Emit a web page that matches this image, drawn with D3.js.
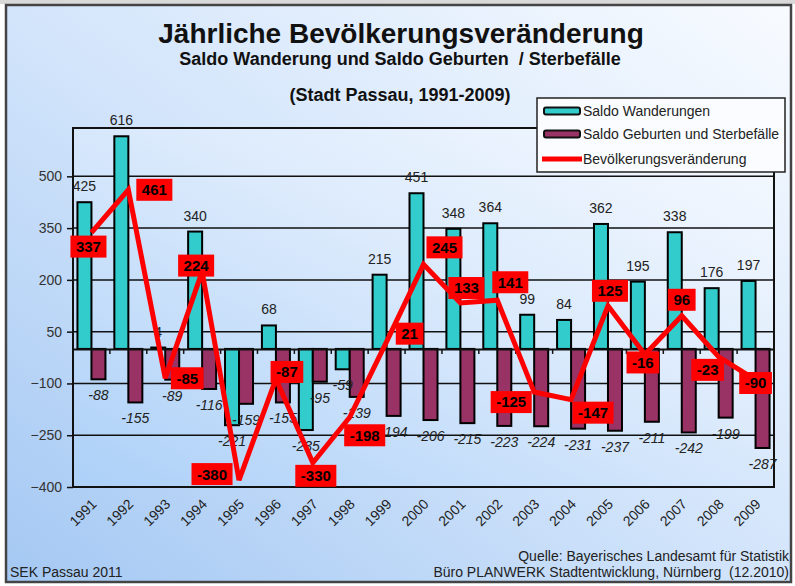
<!DOCTYPE html>
<html>
<head>
<meta charset="utf-8">
<script src="https://cdn.jsdelivr.net/npm/d3@7/dist/d3.min.js"></script>
<style>
  body { margin: 0; background: #fff; }
  svg { display: block; font-family: "Liberation Sans", Arial, sans-serif; }
</style>
</head>
<body>
<svg id="chart" width="795" height="586"></svg>
<script>
// ---- data ----
const years = ['1991','1992','1993','1994','1995','1996','1997','1998','1999','2000',
               '2001','2002','2003','2004','2005','2006','2007','2008','2009'];
const saldoWanderungen = [425, 616, 4, 340, -221, 68, -235, -59, 215, 451,
                          348, 364, 99, 84, 362, 195, 338, 176, 197];
const saldoGeburten = [-88, -155, -89, -116, -159, -155, -95, -139, -194, -206,
                       -215, -223, -224, -231, -237, -211, -242, -199, -287];
const veraenderung = [337, 461, -85, 224, -380, -87, -330, -198, 21, 245,
                      133, 141, -125, -147, 125, -16, 96, -23, -90];
const yTicks = [500, 350, 200, 50, -100, -250, -400];

// hand-placed label boxes of the line (offset from the point, px) - layout only
const lineLabelShift = [[-3,14],[26,0],[22,0],[-6,-6],[-27,-6],[11,-7],[3,13],[15,18],[23,-8],[21,-17],
                        [6,-15],[13,-18],[-23,10],[22,13],[2,-15],[-2,8],[0,-16],[-11,13],[0,3]];

// ---- layout ----
const W = 795, H = 586;
const plot = { left: 73, right: 774, top: 128, bottom: 487 };
const teal = '#33cccc', plum = '#993366', red = '#ff0000';

const svg = d3.select('#chart');
const defs = svg.append('defs');

// background gradients
const bg = defs.append('linearGradient').attr('id', 'bg')
    .attr('x1', 0).attr('y1', 1).attr('x2', 1).attr('y2', 0);
bg.append('stop').attr('offset', 0).attr('stop-color', '#a4c8f3');
bg.append('stop').attr('offset', 0.5).attr('stop-color', '#d3e5fb');
bg.append('stop').attr('offset', 1).attr('stop-color', '#f8fbff');

const pg = defs.append('linearGradient').attr('id', 'pg')
    .attr('x1', 0).attr('y1', 1).attr('x2', 1).attr('y2', 0);
pg.append('stop').attr('offset', 0).attr('stop-color', '#acd0f8');
pg.append('stop').attr('offset', 0.55).attr('stop-color', '#dbeafc');
pg.append('stop').attr('offset', 1).attr('stop-color', '#f7faff');

svg.append('rect').attr('x', 0).attr('y', 0).attr('width', W).attr('height', 4).attr('fill', '#d9d9d9');
svg.append('rect')
    .attr('x', 6).attr('y', 5).attr('width', 785).attr('height', 577)
    .attr('fill', 'url(#bg)').attr('stroke', '#444').attr('stroke-width', 2.5);

// ---- titles ----
svg.append('text').attr('x', 401).attr('y', 43).attr('text-anchor', 'middle')
    .attr('font-size', 28).attr('font-weight', 'bold').attr('fill', '#111')
    .text('Jährliche Bevölkerungsveränderung');
svg.append('text').attr('x', 400).attr('y', 65).attr('text-anchor', 'middle')
    .attr('font-size', 18).attr('font-weight', 'bold').attr('fill', '#111')
    .attr('xml:space', 'preserve')
    .text('Saldo Wanderung und Saldo Geburten  / Sterbefälle');
svg.append('text').attr('x', 400).attr('y', 101).attr('text-anchor', 'middle')
    .attr('font-size', 18).attr('font-weight', 'bold').attr('fill', '#111')
    .text('(Stadt Passau, 1991-2009)');

// ---- scales ----
const x = d3.scaleBand().domain(years).range([plot.left, plot.right]).padding(0);
const y = d3.scaleLinear().domain([-400, 640]).range([plot.bottom, plot.top]);
const barW = 14;

// plot area
svg.append('rect')
    .attr('x', plot.left).attr('y', plot.top)
    .attr('width', plot.right - plot.left).attr('height', plot.bottom - plot.top)
    .attr('fill', 'url(#pg)');

// y axis with gridlines
const yAxis = svg.append('g')
    .attr('transform', `translate(${plot.left},0)`)
    .call(d3.axisLeft(y).tickValues(yTicks).tickSize(6).tickPadding(5).tickFormat(d3.format('d')));
yAxis.select('.domain').remove();
yAxis.selectAll('.tick line').attr('stroke', '#111').attr('stroke-width', 1.5);
yAxis.selectAll('.tick text').attr('font-size', 14).attr('fill', '#333')
    .style('font-family', '"Liberation Sans", Arial, sans-serif');

svg.append('g').selectAll('line')
    .data(yTicks.filter(d => d > -400))
    .join('line')
    .attr('x1', plot.left).attr('x2', plot.right)
    .attr('y1', d => y(d)).attr('y2', d => y(d))
    .attr('stroke', '#111').attr('stroke-width', 1.5);

// ---- bars ----
const bars = svg.append('g').attr('stroke', '#000').attr('stroke-width', 2);
bars.selectAll('rect.w')
    .data(saldoWanderungen)
    .join('rect').attr('class', 'w')
    .attr('x', (d, i) => x(years[i]) + x.bandwidth() / 2 - barW)
    .attr('width', barW)
    .attr('y', d => y(Math.max(0, d)))
    .attr('height', d => Math.max(1, Math.abs(y(d) - y(0))))
    .attr('fill', teal);
bars.selectAll('rect.g')
    .data(saldoGeburten)
    .join('rect').attr('class', 'g')
    .attr('x', (d, i) => x(years[i]) + x.bandwidth() / 2)
    .attr('width', barW)
    .attr('y', d => y(Math.max(0, d)))
    .attr('height', d => Math.abs(y(d) - y(0)))
    .attr('fill', plum);

// zero axis with category ticks
const xAxis = svg.append('g')
    .attr('transform', `translate(0,${y(0)})`)
    .call(d3.axisBottom(x).tickSize(0).tickFormat(''));
xAxis.select('.domain').attr('stroke', '#111').attr('stroke-width', 2);
svg.append('g').selectAll('line')
    .data(years.slice(1))
    .join('line')
    .attr('x1', d => x(d)).attr('x2', d => x(d))
    .attr('y1', y(0)).attr('y2', y(0) + 5)
    .attr('stroke', '#111').attr('stroke-width', 1.5);

// plot frame
svg.append('rect')
    .attr('x', plot.left).attr('y', plot.top)
    .attr('width', plot.right - plot.left).attr('height', plot.bottom - plot.top)
    .attr('fill', 'none').attr('stroke', '#111').attr('stroke-width', 2);

// year labels
svg.append('g').selectAll('text')
    .data(years)
    .join('text')
    .attr('transform', d => `translate(${x(d) + x.bandwidth() / 2 + 6},${plot.bottom + 18}) rotate(-45)`)
    .attr('text-anchor', 'end')
    .attr('font-size', 14).attr('fill', '#222')
    .text(d => d);

// ---- bar value labels ----
function barLabel(values, offset) {
    svg.append('g').selectAll('text')
        .data(values)
        .join('text')
        .attr('x', (d, i) => x(years[i]) + x.bandwidth() / 2 + offset)
        .attr('y', d => d >= 0 ? y(d) - 11 : y(d) + 21)
        .attr('text-anchor', 'middle')
        .attr('font-size', 14).attr('fill', '#222')
        .attr('font-style', d => d < 0 ? 'italic' : 'normal')
        .text(d => d);
}
barLabel(saldoWanderungen, -barW / 2);
barLabel(saldoGeburten, barW / 2);

// ---- line ----
const cx = i => x(years[i]) + x.bandwidth() / 2;
const line = d3.line().x((d, i) => cx(i)).y(d => y(d));
svg.append('path')
    .datum(veraenderung)
    .attr('d', line)
    .attr('fill', 'none').attr('stroke', red)
    .attr('stroke-width', 5).attr('stroke-linejoin', 'miter').attr('stroke-miterlimit', 3);

const lab = svg.append('g').selectAll('g')
    .data(veraenderung)
    .join('g')
    .attr('transform', (d, i) => `translate(${cx(i) + lineLabelShift[i][0]},${y(d) + lineLabelShift[i][1]})`);
lab.append('rect').attr('fill', red);
lab.append('text')
    .attr('text-anchor', 'middle').attr('dy', '0.36em')
    .attr('font-size', 15).attr('font-weight', 'bold').attr('fill', '#000')
    .text(d => d);
lab.each(function () {
    const g = d3.select(this);
    const w = g.select('text').node().getComputedTextLength() + 11;
    g.select('rect').attr('x', -w / 2).attr('y', -11).attr('width', w).attr('height', 22);
});

// ---- legend ----
const leg = svg.append('g').attr('transform', 'translate(537,98)');
leg.append('rect').attr('width', 248).attr('height', 74)
    .attr('fill', '#fafcff').attr('stroke', '#222').attr('stroke-width', 1.5);
const legItems = [
    { name: 'Saldo Wanderungen', color: teal, type: 'bar' },
    { name: 'Saldo Geburten und Sterbefälle', color: plum, type: 'bar' },
    { name: 'Bevölkerungsveränderung', color: red, type: 'line' }
];
const li = leg.selectAll('g.item')
    .data(legItems)
    .join('g').attr('class', 'item')
    .attr('transform', (d, i) => `translate(0,${[13, 36, 61][i]})`);
li.filter(d => d.type === 'bar').append('rect')
    .attr('x', 7).attr('y', -3.5).attr('width', 36).attr('height', 7).attr('rx', 2)
    .attr('fill', d => d.color).attr('stroke', '#111').attr('stroke-width', 2);
li.filter(d => d.type === 'line').append('line')
    .attr('x1', 5).attr('x2', 45).attr('stroke', d => d.color).attr('stroke-width', 5);
li.append('text').attr('x', 46).attr('dy', '0.36em')
    .attr('font-size', 14).attr('fill', '#222').text(d => d.name);

// ---- footer ----
svg.append('text').attr('x', 10).attr('y', 577).attr('font-size', 14).attr('fill', '#222')
    .text('SEK Passau 2011');
svg.append('text').attr('x', 789).attr('y', 561).attr('text-anchor', 'end')
    .attr('font-size', 14).attr('fill', '#222')
    .text('Quelle: Bayerisches Landesamt für Statistik');
svg.append('text').attr('x', 789).attr('y', 577).attr('text-anchor', 'end')
    .attr('font-size', 14).attr('fill', '#222').attr('xml:space', 'preserve')
    .text('Büro PLANWERK Stadtentwicklung, Nürnberg  (12.2010)');
</script>
</body>
</html>
